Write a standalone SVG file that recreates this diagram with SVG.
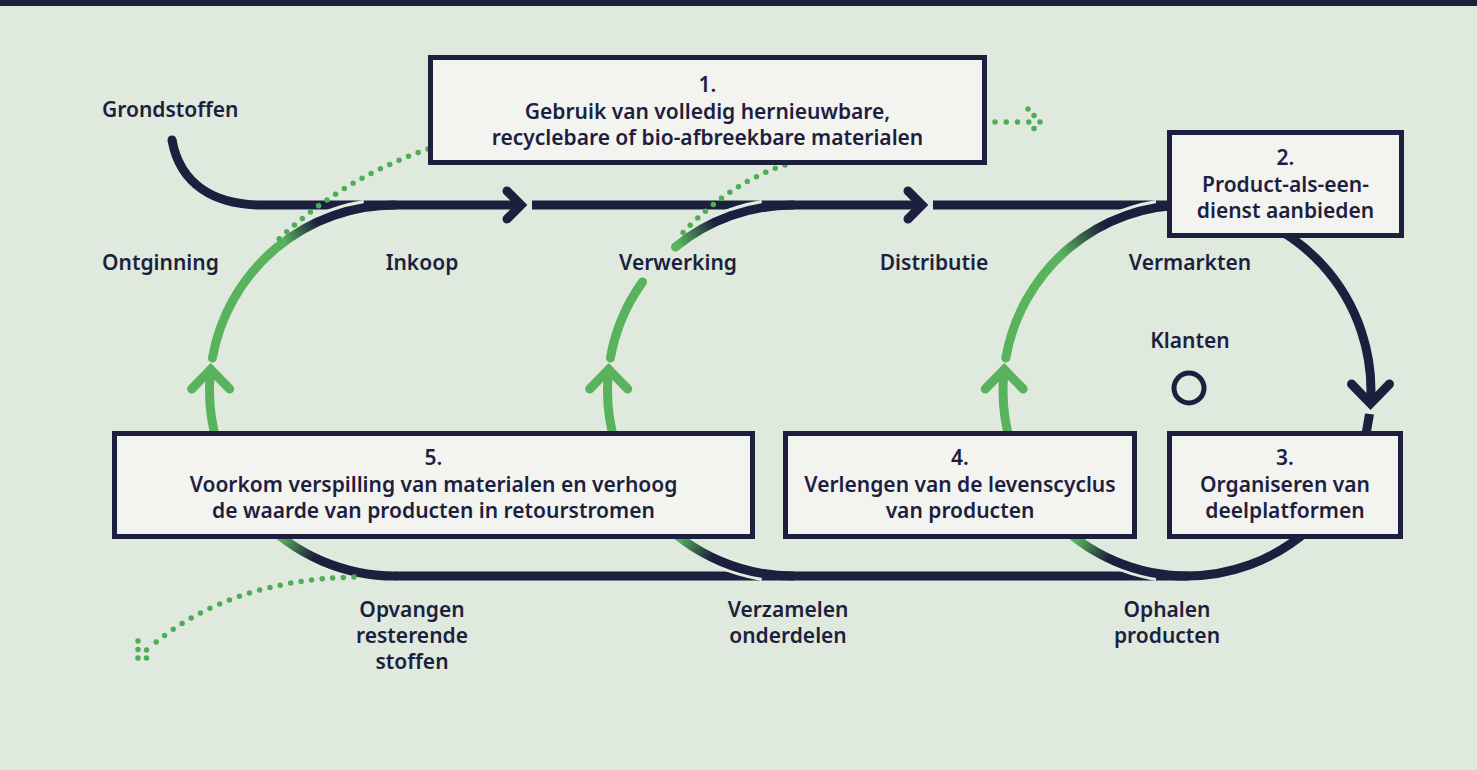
<svg xmlns="http://www.w3.org/2000/svg" width="1477" height="770" viewBox="0 0 1477 770">
<style>
.nav{fill:none;stroke:#1d1f3e;stroke-width:9;stroke-linecap:butt}
.chev{fill:none;stroke-width:9;stroke-linecap:round;stroke-linejoin:miter;stroke-miterlimit:10}
.grn{fill:none;stroke-width:9;stroke-linecap:round}
.halo{fill:none;stroke:#e3ece1;stroke-width:15;stroke-linecap:butt}
.dots{fill:none;stroke:#4fae55;stroke-width:5.5;stroke-linecap:round}
.box{fill:#f3f3f0;stroke:#1d1f3e;stroke-width:5}
text{font-family:"Noto Sans","Liberation Sans",sans-serif;font-weight:600;font-size:21px;fill:#1d1f3e;text-anchor:middle}
.st{text-anchor:start}
</style>
<defs>
<linearGradient id="g1l" gradientUnits="userSpaceOnUse" x1="281" y1="537" x2="314" y2="557"><stop offset="0" stop-color="#58b35c"/><stop offset="1" stop-color="#1d1f3e"/></linearGradient>
<linearGradient id="g1u" gradientUnits="userSpaceOnUse" x1="284" y1="242" x2="317" y2="222"><stop offset="0" stop-color="#58b35c"/><stop offset="1" stop-color="#1d1f3e"/></linearGradient>
<linearGradient id="g2l" gradientUnits="userSpaceOnUse" x1="680" y1="537" x2="712" y2="557"><stop offset="0" stop-color="#58b35c"/><stop offset="1" stop-color="#1d1f3e"/></linearGradient>
<linearGradient id="g2u" gradientUnits="userSpaceOnUse" x1="679" y1="244" x2="714" y2="221"><stop offset="0" stop-color="#58b35c"/><stop offset="1" stop-color="#1d1f3e"/></linearGradient>
<linearGradient id="g3l" gradientUnits="userSpaceOnUse" x1="1075" y1="542" x2="1108" y2="560"><stop offset="0" stop-color="#58b35c"/><stop offset="1" stop-color="#1d1f3e"/></linearGradient>
<linearGradient id="g3u" gradientUnits="userSpaceOnUse" x1="1062" y1="254" x2="1102" y2="225"><stop offset="0" stop-color="#58b35c"/><stop offset="1" stop-color="#1d1f3e"/></linearGradient>
</defs>
<rect x="0" y="0" width="1477" height="770" fill="#dfe9dd"/>
<rect x="0" y="0" width="1477" height="6" fill="#1d1f3e"/>

<g id="connectors">
  <!-- main flow lines -->
  <path class="nav" d="M172,140 C180,185 215,205 262,205 L521,205 M532,205 L922,205 M933,205 L1187,205"/>
  <circle cx="172" cy="140" r="4.5" fill="#1d1f3e"/>
  <path class="nav" d="M395,576 L1187,576"/>
  <path class="chev" stroke="#1d1f3e" d="M507,191 L521,205 L507,219"/>
  <path class="chev" stroke="#1d1f3e" d="M908,191 L922,205 L908,219"/>
  <!-- halos where loops merge into lines -->
  <path class="halo" d="M317.4,222 A185.5,185.5 0 0 1 364.7,207.5"/>
  <path class="halo" d="M364.7,573.5 A185.5,185.5 0 0 1 317.4,559"/>
  <path class="halo" d="M715.4,222 A185.5,185.5 0 0 1 762.7,207.5"/>
  <path class="halo" d="M762.7,573.5 A185.5,185.5 0 0 1 715.4,559"/>
  <path class="halo" d="M1110.1,222 A184,185.5 0 0 1 1156.9,207.5"/>
  <path class="halo" d="M1156.9,573.5 A184,185.5 0 0 1 1110.1,559"/>
  <!-- loop 1 -->
  <path class="grn" stroke="url(#g1l)" d="M395,576 A185.5,185.5 0 0 1 210.7,369.5"/>
  <path class="chev" stroke="#58b35c" d="M191.7,389 L210.7,369.5 L229.7,389"/>
  <path class="grn" stroke="url(#g1u)" d="M212.4,358 A185.5,185.5 0 0 1 395,205"/>
  <!-- loop 2 -->
  <path class="grn" stroke="url(#g2l)" d="M793,576 A185.5,185.5 0 0 1 608.7,369.5"/>
  <path class="chev" stroke="#58b35c" d="M589.7,389 L608.7,369.5 L627.7,389"/>
  <path class="grn" stroke="#58b35c" d="M610.4,358 A185.5,185.5 0 0 1 642.5,282"/>
  <path class="grn" stroke="url(#g2u)" d="M675.5,247 A185.5,185.5 0 0 1 793,205"/>
  <!-- loop 3 -->
  <path class="grn" stroke="url(#g3l)" d="M1187,576 A184,185.5 0 0 1 1004.2,369.5"/>
  <path class="chev" stroke="#58b35c" d="M985.2,389 L1004.2,369.5 L1023.2,389"/>
  <path class="grn" stroke="url(#g3u)" d="M1005.8,358 A184,185.5 0 0 1 1187,205"/>
  <path class="nav" d="M1187,205 A184,185.5 0 0 1 1370.5,403.6"/>
  <path class="chev" stroke="#1d1f3e" d="M1351.5,384 L1370.5,403.6 L1389.5,384"/>
  <path class="nav" d="M1369.5,414 A184,185.5 0 0 1 1187,576"/>
  <!-- dotted flows -->
  <path class="dots" stroke-dasharray="0 10.3" d="M428,149 Q340,180 278,240"/>
  <path class="dots" stroke-dasharray="0 10.3" d="M785,165 Q728,183 676,240"/>
  <path class="dots" stroke-dasharray="0 11.25" d="M995,122 H1040"/>
  <path class="dots" stroke-dasharray="0 8.85" d="M1028,109 L1040,122 L1028,135"/>
  <path class="dots" stroke-dasharray="0 10.6" d="M354,577 Q232,580 155,643"/>
  <path class="dots" stroke-dasharray="0 8.5" d="M138,641 L138,658 L155,658"/>
  <circle cx="146.5" cy="650" r="2.75" fill="#4fae55"/>
</g>

<g id="box1">
  <rect class="box" x="430.5" y="57.5" width="554" height="105"/>
  <text x="707.5" y="92">1.</text>
  <text x="707.5" y="118.5">Gebruik van volledig hernieuwbare,</text>
  <text x="707.5" y="145">recyclebare of bio-afbreekbare materialen</text>
</g>
<g id="box2">
  <rect class="box" x="1169.5" y="132.5" width="232" height="103"/>
  <text x="1285.5" y="165">2.</text>
  <text x="1285.5" y="192">Product-als-een-</text>
  <text x="1285.5" y="218">dienst aanbieden</text>
</g>
<g id="box3">
  <rect class="box" x="1169.5" y="433.5" width="231" height="103"/>
  <text x="1285" y="465">3.</text>
  <text x="1285" y="492">Organiseren van</text>
  <text x="1285" y="518">deelplatformen</text>
</g>
<g id="box4">
  <rect class="box" x="785.5" y="433.5" width="349" height="103"/>
  <text x="960" y="465">4.</text>
  <text x="960" y="492">Verlengen van de levenscyclus</text>
  <text x="960" y="518">van producten</text>
</g>
<g id="box5">
  <rect class="box" x="114.5" y="433.5" width="638" height="103"/>
  <text x="433.5" y="465">5.</text>
  <text x="433.5" y="492">Voorkom verspilling van materialen en verhoog</text>
  <text x="433.5" y="518">de waarde van producten in retourstromen</text>
</g>

<g id="klanten">
  <text x="1190" y="348">Klanten</text>
  <circle cx="1189" cy="388" r="15" fill="none" stroke="#1d1f3e" stroke-width="5"/>
</g>
<g id="labels">
  <text class="st" x="102" y="117">Grondstoffen</text>
  <text class="st" x="102" y="270">Ontginning</text>
  <text x="422" y="270">Inkoop</text>
  <text x="678" y="270">Verwerking</text>
  <text x="934" y="270">Distributie</text>
  <text x="1190" y="270">Vermarkten</text>
  <text x="412" y="617">Opvangen</text>
  <text x="412" y="643">resterende</text>
  <text x="412" y="669">stoffen</text>
  <text x="788" y="617">Verzamelen</text>
  <text x="788" y="643">onderdelen</text>
  <text x="1167" y="617">Ophalen</text>
  <text x="1167" y="643">producten</text>
</g>
</svg>
